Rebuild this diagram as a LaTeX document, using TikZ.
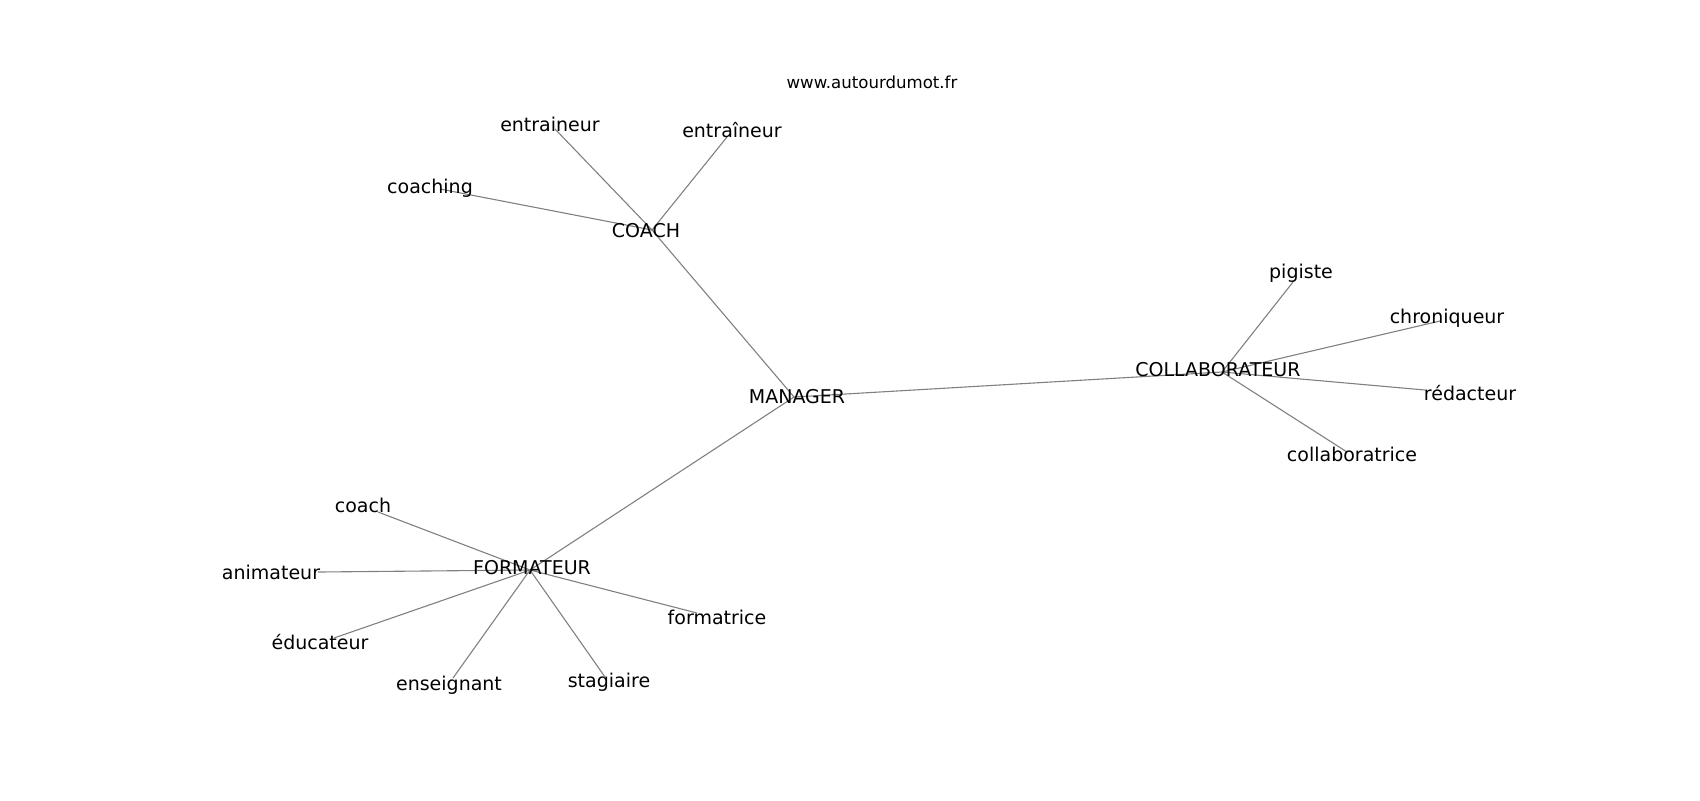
\documentclass[tikz,border=0pt]{standalone}
\usepackage{fontspec}
\setmainfont{DejaVu Sans}
\usetikzlibrary{positioning}

\begin{document}
\begin{tikzpicture}[x=0.5pt, y=-0.5pt,
    word/.style={inner sep=0pt, anchor=base, font=\fontsize{9.5}{11}\selectfont},
    link/.style={draw=black!50, line width=0.55pt}]
    \useasboundingbox (0,0) rectangle (1700,800);
    \coordinate (manager) at (794,397);
    \coordinate (coach) at (652,230);
    \coordinate (coaching) at (440,189);
    \coordinate (entr1) at (555,129);
    \coordinate (entr2) at (727,137);
    \coordinate (collab) at (1222,372);
    \coordinate (pigiste) at (1293,282);
    \coordinate (chron) at (1440,321);
    \coordinate (redac) at (1425,390);
    \coordinate (collabf) at (1347,452);
    \coordinate (form) at (530,570);
    \coordinate (coachs) at (378,512);
    \coordinate (anim) at (318,572);
    \coordinate (educ) at (334,638);
    \coordinate (formf) at (697,613);
    \coordinate (ens) at (453,678);
    \coordinate (stag) at (605,677);
    \draw[link] (manager) -- (coach);
    \draw[link] (manager) -- (collab);
    \draw[link] (manager) -- (form);
    \draw[link] (coach) -- (coaching);
    \draw[link] (coach) -- (entr1);
    \draw[link] (coach) -- (entr2);
    \draw[link] (collab) -- (pigiste);
    \draw[link] (collab) -- (chron);
    \draw[link] (collab) -- (redac);
    \draw[link] (collab) -- (collabf);
    \draw[link] (form) -- (coachs);
    \draw[link] (form) -- (anim);
    \draw[link] (form) -- (educ);
    \draw[link] (form) -- (formf);
    \draw[link] (form) -- (ens);
    \draw[link] (form) -- (stag);
    \node[word, font=\fontsize{8.3}{10}\selectfont] (site) at (872,88) {www.autourdumot.fr};
    \node[word] (managerL) at (797,403) {MANAGER};
    \node[word] (coachL) at (646,237) {COACH};
    \node[word] (coachingL) at (430,193) {coaching};
    \node[word] (entr1L) at (550,131) {entraineur};
    \node[word] (entr2L) at (732,137) {entraîneur};
    \node[word] (collabL) at (1218,376) {COLLABORATEUR};
    \node[word] (pigisteL) at (1301,278) {pigiste};
    \node[word] (chronL) at (1447,323) {chroniqueur};
    \node[word] (redacL) at (1470,400) {rédacteur};
    \node[word] (collabfL) at (1352,461) {collaboratrice};
    \node[word] (formL) at (532,574) {FORMATEUR};
    \node[word] (coachsL) at (363,512) {coach};
    \node[word] (animL) at (271,579) {animateur};
    \node[word] (educL) at (320,649) {éducateur};
    \node[word] (formfL) at (717,624) {formatrice};
    \node[word] (ensL) at (449,690) {enseignant};
    \node[word] (stagL) at (609,687) {stagiaire};
\end{tikzpicture}
\end{document}
